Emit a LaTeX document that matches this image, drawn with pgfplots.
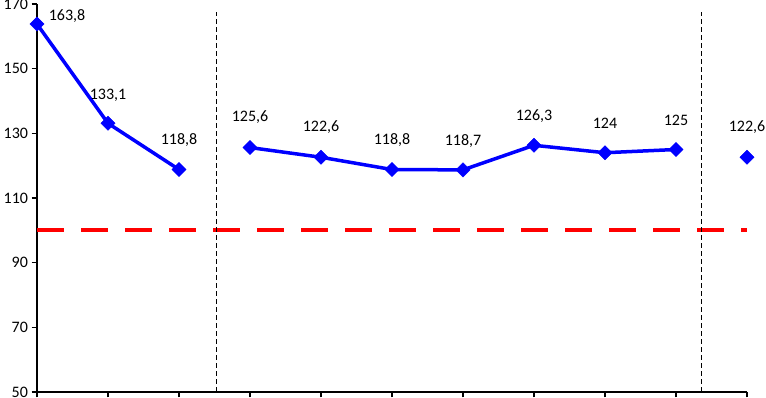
\documentclass[border=0pt]{standalone}
\usepackage{pgfplots}
\pgfplotsset{compat=1.18}
\usepackage{pgfplotstable}
\usepackage{fontspec}
\setmainfont{Carlito}
\definecolor{mblue}{RGB}{0,0,255}
\definecolor{mred}{RGB}{255,0,0}
\pgfplotstableread{
x y lab dx dy
0 163.8 163,8 30 8
1 133.1 133,1 0 28
2 118.8 118,8 0 29
}\segA
\pgfplotstableread{
x y lab dx dy
3 125.6 125,6 0 30
4 122.6 122,6 0 30
5 118.8 118,8 0 29
6 118.7 118,7 0 29
7 126.3 126,3 0 29
8 124 124 0 29
9 125 125 0 29
}\segB
\pgfplotstableread{
x y lab dx dy
10 122.6 122,6 0 30
}\segC
\pgfplotsset{
  datastyle/.style={
    mblue, line width=3.5pt, mark=square*, mark size=5pt,
    mark options={rotate=45, solid, fill=mblue, line width=0.5pt},
    point meta=explicit symbolic,
    visualization depends on={\thisrow{dx} \as \dx},
    visualization depends on={\thisrow{dy} \as \dy},
    nodes near coords,
    nodes near coords style={black, font=\fontsize{16pt}{19pt}\selectfont, anchor=center, xshift=\dx pt, yshift=\dy pt},
  }
}
\begin{document}
\begin{tikzpicture}
\begin{axis}[
  at={(37pt,6pt)}, anchor=south west,
  scale only axis, width=710pt, height=388pt,
  xmin=0, xmax=10, ymin=50, ymax=170,
  axis x line=bottom, axis y line=left,
  axis line style={-, line width=1.3pt, black},
  xtick={0,...,10}, xticklabels={},
  ytick={50,70,90,110,130,150,170},
  tick align=outside, major tick length=5.5pt,
  tick style={line width=1.2pt, black},
  /pgf/number format/assume math mode=true,
  tick label style={font=\fontsize{16pt}{19pt}\selectfont},
  clip=false,
]
\addplot[mred, line width=4pt, dash pattern=on 27pt off 17pt, forget plot] coordinates {(0,100) (10,100)};
\addplot[black, line width=1.2pt, dash pattern=on 5pt off 3pt, forget plot] coordinates {(2.53,50) (2.53,167.5)};
\addplot[black, line width=1.2pt, dash pattern=on 5pt off 3pt, forget plot] coordinates {(9.36,50) (9.36,167.5)};
\addplot[datastyle] table[x=x, y=y, meta=lab] {\segA};
\addplot[datastyle] table[x=x, y=y, meta=lab] {\segB};
\addplot[datastyle, only marks] table[x=x, y=y, meta=lab] {\segC};
\end{axis}
\pgfresetboundingbox
\useasboundingbox (0,0) rectangle (766pt,398pt);
\end{tikzpicture}
\end{document}
